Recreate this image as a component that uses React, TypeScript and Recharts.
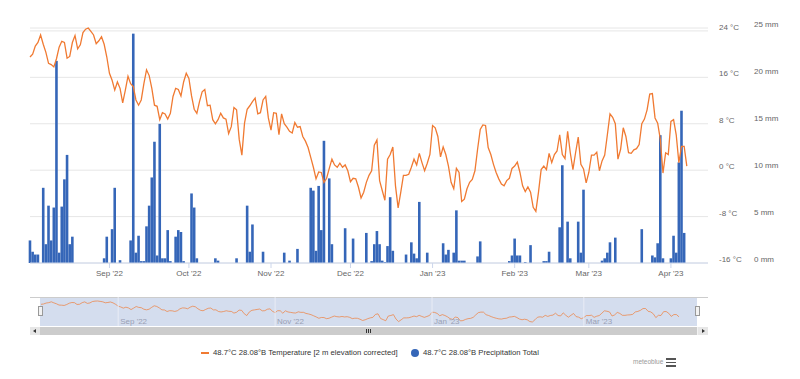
import React from 'react';
import { ComposedChart, LineChart, Line, Bar, XAxis, YAxis, CartesianGrid } from 'recharts';

// daily values from 2 Aug 2022 to 7 Apr 2023
const tempAug = [19.5, 20.0, 21.4, 22, 23.3, 21.7, 20.3, 18.4, 18.2, 17.8, 19.2, 21.2, 22.2, 22, 19.3, 19.6, 22, 23.2, 20.9, 21.6, 23.7, 24.3, 24.5, 23.9, 23.3, 21.8, 22.3, 23, 21.7, 19.5];
const tempSep = [16.7, 15.5, 13.8, 15.2, 14.1, 11.6, 13.8, 16.2, 14.9, 14.4, 12.1, 11.2, 12.1, 14.9, 17.3, 16.3, 14.1, 11.2, 11, 8.7, 9.9, 9.7, 8.8, 9.8, 12.7, 14.1, 13.9, 12.8, 15.2, 16.7];
const tempOct = [15.8, 12.8, 10.5, 9.8, 11.8, 13.5, 13.9, 11.1, 11.2, 8.7, 8, 8.7, 9.8, 9, 8.8, 6.3, 7.5, 10.8, 10.4, 5.3, 2.6, 8.1, 10.5, 11.1, 11.8, 12.4, 9.7, 9.9, 12.1, 12.7, 9];
const tempNov = [6.9, 9.9, 9.8, 6.1, 9.7, 8, 7.4, 6.7, 6.4, 8.2, 7.4, 7.5, 5.8, 5, 3.9, 2.2, 0.5, -1.5, -0.3, -0.4, -2.1, -1.4, 0.3, 1.9, 0.9, 0.5, 1.2, 0.5, 0.9, -0.1];
const tempDec = [-2, -1.4, -1.5, -2.9, -4.8, -3.8, -2.1, -0.9, -0.1, 4.3, 5.2, -1.8, -3.5, -5.2, 1.9, 2.7, 4, -2.7, -6.5, -3.8, -0.9, -0.9, -0.7, 0.5, 1.9, 0.9, 2.9, 1.3, -0.1, 1.2, 2.7];
const tempJan = [7.7, 7.3, 5.8, 2.3, 4, 2.7, 0.7, -2.1, -3.2, 0.3, -0.4, -5.4, -5, -3.2, -2.1, -1.6, -0.1, 3.6, 7, 7.8, 7.7, 3.9, 2.7, 1, -0.4, -1.5, -2.4, -2.7, -1.8, -1.4, 0.3];
const tempFeb = [0.7, 1.4, -0.4, -2.7, -3.7, -2.9, -3.8, -6.4, -7.1, -3.8, 0.1, 0.7, 0.1, 2.9, 1.3, 2.7, 3.3, 6.1, 2.7, 2, 6.7, 3, 0.1, 3, 5.7, 1, 0.2, -2.2];
const tempMar = [-0.4, 2.6, 2.6, 3.1, -0.1, 1.6, 2.6, 6.1, 9.7, 9.1, 8, 1.9, 3.6, 7.3, 5.8, 3, 2.9, 3.5, 3.7, 4.4, 8, 8.8, 10.4, 13.1, 13.2, 9, 8.1, 5.3, -0.5, 3, 2.7];
const tempApr = [8.4, 8.7, 6.1, 1.3, 4.1, 4.1, 0.7];

const precipAug = [2.4, 1.2, 0.9, 0.9, 0, 8.0, 2.0, 6.1, 2.4, 5.9, 21.5, 1.1, 6.0, 8.9, 11.5, 2.0, 2.8, 0, 0, 0, 0, 0, 0, 0, 0, 0, 0, 0, 0.5, 2.8];
const precipSep = [0, 3.6, 8.0, 0, 0.3, 0, 0, 0, 2.4, 24.4, 1.1, 2.9, 0.2, 0.2, 3.9, 6.1, 9.1, 12.9, 0.8, 14.8, 0.5, 0.5, 3.5, 0.2, 0, 2.8, 3.5, 3.3, 0.2, 0];
const precipOct = [0, 7.4, 5.9, 0.5, 0, 0, 0, 0, 0, 0, 0.5, 0.25, 0, 0, 0, 0, 0, 0, 0.5, 0, 0, 0, 6.1, 1.2, 4.1, 0, 0, 0, 1.2, 0, 0];
const precipNov = [0, 0, 0, 0, 0, 1.1, 0, 0.25, 0, 0, 1.5, 0, 0, 0, 0, 8.0, 7.7, 1.3, 8.2, 3.5, 13.0, 0, 9.0, 2.0, 0, 0, 0, 0, 3.7, 0];
const precipDec = [0, 2.6, 0, 0, 0, 0, 3.2, 0, 0.2, 2.0, 3.4, 2.0, 0.25, 0.1, 1.8, 7.0, 1.3, 0, 0, 0, 0, 0.9, 0, 2.2, 1.0, 0.5, 6.5, 0, 0, 1.1, 0];
const precipJan = [0, 0, 0, 0, 2.1, 0.9, 1.4, 0, 1.1, 5.6, 0.25, 0.25, 0.25, 0, 0, 0, 0, 0.7, 2.3, 0, 0, 0, 0, 0, 0, 0, 0, 0, 0, 0.2, 0.8];
const precipFeb = [2.6, 0.8, 0.8, 0, 0.1, 0, 1.9, 0, 0, 0, 0, 0.2, 0.2, 1.2, 0, 0, 0, 3.8, 10.4, 0, 4.4, 0.5, 0, 0, 4.4, 1.1, 7.8, 0];
const precipMar = [0, 0, 0, 0, 0, 0.25, 0.5, 1.1, 2.2, 0, 2.7, 0, 0, 0, 0, 0, 0, 0, 0, 0, 3.6, 0, 0, 0, 0.8, 0.6, 2.1, 13.6, 0.5, 0, 0];
const precipApr = [0.5, 2.9, 1.1, 10.7, 16.2, 3.2, 0];

// day index of the first of each month
const monthTicks = [30, 60, 91, 121, 152, 183, 211, 242];
const monthLabels = ["Sep '22", "Oct '22", "Nov '22", "Dec '22", "Jan '23", "Feb '23", "Mar '23", "Apr '23"];
const navTicks = [30, 91, 152, 211];
const tempTicks = [-16, -8, 0, 8, 16, 24];
const precipTicks = [0, 5, 10, 15, 20, 25];

const tempName = '48.7°C 28.08°B Temperature [2 m elevation corrected]';
const precipName = '48.7°C 28.08°B Precipitation Total';

const temperature = [...tempAug, ...tempSep, ...tempOct, ...tempNov, ...tempDec, ...tempJan, ...tempFeb, ...tempMar, ...tempApr];
const precipitation = [...precipAug, ...precipSep, ...precipOct, ...precipNov, ...precipDec, ...precipJan, ...precipFeb, ...precipMar, ...precipApr];
const chartData = temperature.map((t, i) => ({ day: i, temp: t, precip: precipitation[i] }));

const TEMP_COLOR = '#f07a32';
const PRECIP_COLOR = '#3566b8';

const monthLabel = (v: number) => monthLabels[monthTicks.indexOf(v)] ?? '';

function RightTick({ x, y, payload, unit }: any) {
  return (
    <text x={x} y={y - 1} fontSize={8} fill="#666" textAnchor="start">
      {`${payload.value} ${unit}`}
    </text>
  );
}

function NavTick({ x, payload }: any) {
  return (
    <g>
      <line x1={x} x2={x} y1={0} y2={29} stroke="#e9ecf5" strokeWidth={1} />
      <text x={x + 2} y={27} fontSize={8} fill="#99a0b5">{monthLabel(payload.value)}</text>
    </g>
  );
}

const abs = (s: React.CSSProperties): React.CSSProperties => ({ position: 'absolute', ...s });

export default function App() {
  return (
    <div style={{ position: 'absolute', left: 0, top: 0, width: 800, height: 379, background: '#fff', overflow: 'hidden', fontFamily: "'Liberation Sans', Arial, sans-serif" }}>
      <ComposedChart width={800} height={290} data={chartData} margin={{ top: 28, right: 7, bottom: 7, left: 30 }}>
        <CartesianGrid yAxisId="a" vertical={false} stroke="#e6e6e6" />
        <XAxis
          dataKey="day"
          type="number"
          domain={[0, 256]}
          ticks={monthTicks}
          interval={0}
          tickFormatter={monthLabel}
          height={20}
          tickSize={5}
          tickMargin={2}
          stroke="#ccd6eb"
          tick={{ fontSize: 8, fill: '#666' }}
        />
        {/* "a" = temperature (inner), "b" = precipitation (outer) */}
        <YAxis yAxisId="a" orientation="right" domain={[-16, 24]} ticks={tempTicks} width={35} axisLine={false} tickLine={false} tickSize={0} tickMargin={11} tick={<RightTick unit="°C" />} />
        <YAxis yAxisId="b" orientation="right" domain={[0, 25]} ticks={precipTicks} width={50} axisLine={false} tickLine={false} tickSize={0} tickMargin={11} tick={<RightTick unit="mm" />} />
        <Bar yAxisId="b" dataKey="precip" fill={PRECIP_COLOR} barSize={2.6} isAnimationActive={false} />
        <Line yAxisId="a" type="linear" dataKey="temp" stroke={TEMP_COLOR} strokeWidth={1.3} dot={false} isAnimationActive={false} />
      </ComposedChart>

      {/* navigator */}
      <div style={abs({ left: 30, top: 297, width: 678, height: 1, background: '#cccccc' })} />
      <div style={abs({ left: 40, top: 298, width: 657, height: 28, background: 'rgba(102,133,194,0.28)' })} />
      <div style={abs({ left: 41, top: 297 })}>
        <LineChart width={656} height={29} data={chartData} margin={{ top: 4, right: 0, bottom: 0, left: 0 }}>
          <XAxis dataKey="day" type="number" domain={[0, 255]} ticks={navTicks} interval={0} height={4} axisLine={false} tickLine={false} tickSize={0} tickMargin={0} tick={<NavTick />} />
          <YAxis hide domain={['dataMin', 'dataMax']} />
          <Line type="linear" dataKey="temp" stroke={TEMP_COLOR} strokeOpacity={0.85} strokeWidth={0.8} dot={false} isAnimationActive={false} />
        </LineChart>
      </div>
      <div style={abs({ left: 38, top: 306, width: 3, height: 8, background: '#f2f2f2', border: '1px solid #999' })} />
      <div style={abs({ left: 695, top: 306, width: 3, height: 8, background: '#f2f2f2', border: '1px solid #999' })} />

      {/* scrollbar */}
      <div style={abs({ left: 30, top: 327, width: 678, height: 8, background: '#f2f2f2' })} />
      <div style={abs({ left: 40, top: 327, width: 657, height: 8, background: '#cccccc' })} />
      <div style={abs({ left: 30, top: 327, width: 10, height: 8, background: '#e6e6e6' })} />
      <div style={abs({ left: 698, top: 327, width: 10, height: 8, background: '#e6e6e6' })} />
      <div style={abs({ left: 33, top: 329, width: 0, height: 0, borderTop: '2px solid transparent', borderBottom: '2px solid transparent', borderRight: '3px solid #333' })} />
      <div style={abs({ left: 702, top: 329, width: 0, height: 0, borderTop: '2px solid transparent', borderBottom: '2px solid transparent', borderLeft: '3px solid #333' })} />
      {[366, 368, 370].map((gx) => (
        <div key={gx} style={abs({ left: gx, top: 329, width: 1, height: 4, background: '#333' })} />
      ))}

      {/* legend */}
      <div style={abs({ left: 201, top: 352, width: 8, height: 1.5, background: TEMP_COLOR })} />
      <span style={abs({ left: 213, top: 348, fontSize: 7.7, lineHeight: '10px', color: '#333', whiteSpace: 'nowrap' })}>{tempName}</span>
      <div style={abs({ left: 411, top: 349, width: 8, height: 8, borderRadius: '50%', background: PRECIP_COLOR })} />
      <span style={abs({ left: 423, top: 348, fontSize: 7.7, lineHeight: '10px', color: '#333', whiteSpace: 'nowrap' })}>{precipName}</span>

      <span style={abs({ left: 633, top: 357, fontSize: 6.5, lineHeight: '9px', color: '#999', whiteSpace: 'nowrap' })}>meteoblue</span>
      {[358, 361.5, 365].map((hy) => (
        <div key={hy} style={abs({ left: 666, top: hy, width: 10, height: 1.5, background: '#555' })} />
      ))}
    </div>
  );
}
